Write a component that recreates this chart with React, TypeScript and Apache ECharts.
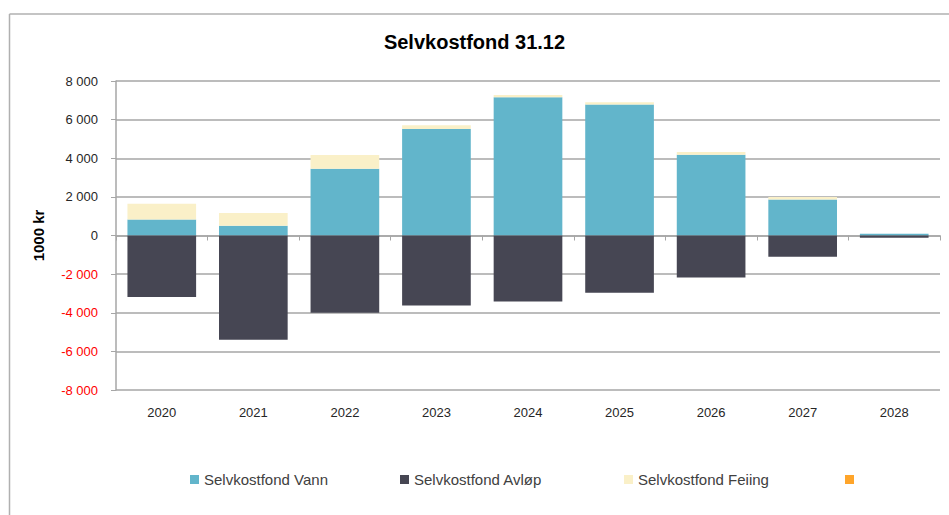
import React, { useEffect, useRef } from "react";
import * as echarts from "echarts";

const categories = ["2020", "2021", "2022", "2023", "2024", "2025", "2026", "2027", "2028"];
const vannValues = [830, 500, 3450, 5510, 7160, 6780, 4180, 1870, 90];
const avlopValues = [-3190, -5400, -4000, -3630, -3420, -2960, -2170, -1100, -120];
const feiingValues = [810, 670, 720, 200, 120, 120, 150, 120, 0];
const orangeValues: (number | null)[] = [];

const seriesNames = ["Selvkostfond Vann", "Selvkostfond Avløp", "Selvkostfond Feiing", " "];
const seriesColors = ["#62b5cb", "#464653", "#faf0c8", "#ffa52a"];
const legendLefts = [190, 400, 624, 845];

const FONT = "Liberation Sans";

function fmt(v: number): string {
  const s = Math.abs(v).toString().replace(/\B(?=(\d{3})+(?!\d))/g, " ");
  return (v < 0 ? "-" : "") + s;
}

export default function App() {
  const ref = useRef<HTMLDivElement>(null);
  useEffect(() => {
    if (!ref.current) return;
    const chart = echarts.init(ref.current, undefined, { renderer: "svg" });
    const dataSets = [vannValues, avlopValues, feiingValues, orangeValues];
    chart.setOption({
      animation: false,
      backgroundColor: "#ffffff",
      textStyle: { fontFamily: FONT },
      title: {
        text: "Selvkostfond 31.12",
        left: "center",
        top: 27,
        textStyle: { fontFamily: FONT, fontSize: 20, fontWeight: "bold", color: "#000000" },
      },
      legend: seriesNames.map((n, i) => ({
        data: [n],
        left: legendLefts[i],
        top: 472,
        padding: 0,
        itemWidth: 9,
        itemHeight: 9,
        itemGap: 0,
        icon: "rect",
        selectedMode: false,
        textStyle: { fontFamily: FONT, fontSize: 15, color: "#404040" },
      })),
      grid: { left: 116, right: 9, top: 81, bottom: 125, containLabel: false },
      xAxis: [
        {
          type: "category",
          data: categories,
          axisLine: { onZero: true, lineStyle: { color: "#a6a6a6", width: 1.5 } },
          axisTick: { show: true, length: 5, lineStyle: { color: "#a6a6a6" } },
          axisLabel: { show: false },
          splitLine: { show: false },
        },
        {
          type: "category",
          data: categories,
          position: "bottom",
          axisLine: { show: false, onZero: false },
          axisTick: { show: false },
          axisLabel: { margin: 16, fontFamily: FONT, fontSize: 13, color: "#262626" },
          splitLine: { show: false },
        },
      ],
      yAxis: {
        type: "value",
        min: -8000,
        max: 8000,
        interval: 2000,
        name: "1000 kr",
        nameLocation: "middle",
        nameGap: 70,
        nameRotate: 90,
        nameTextStyle: { fontFamily: FONT, fontSize: 15, fontWeight: "bold", color: "#000000" },
        axisLine: { show: true, lineStyle: { color: "#a6a6a6", width: 1.5 } },
        axisTick: { show: true, length: 5, lineStyle: { color: "#a6a6a6" } },
        axisLabel: {
          margin: 18,
          fontFamily: FONT,
          fontSize: 13,
          formatter: (v: number) => fmt(v),
          color: (v: any) => (Number(v) < 0 ? "#ff0000" : "#262626"),
        },
        splitLine: { show: true, lineStyle: { color: "#a6a6a6", width: 1.5 } },
      },
      series: seriesNames.map((n, i) => ({
        name: n,
        type: "bar",
        stack: "total",
        xAxisIndex: 0,
        barCategoryGap: "25%",
        data: dataSets[i],
        itemStyle: { color: seriesColors[i] },
      })),
      graphic: [
        {
          type: "line",
          shape: { x1: 9.5, y1: 14, x2: 949, y2: 14 },
          style: { stroke: "#b0b0b0", lineWidth: 1.5 },
          silent: true,
        },
        {
          type: "line",
          shape: { x1: 9.5, y1: 14, x2: 9.5, y2: 515 },
          style: { stroke: "#b0b0b0", lineWidth: 1.5 },
          silent: true,
        },
      ],
    });
    return () => chart.dispose();
  }, []);
  return (
    <div
      ref={ref}
      style={{ position: "absolute", left: 0, top: 0, width: 949, height: 515 }}
    />
  );
}
